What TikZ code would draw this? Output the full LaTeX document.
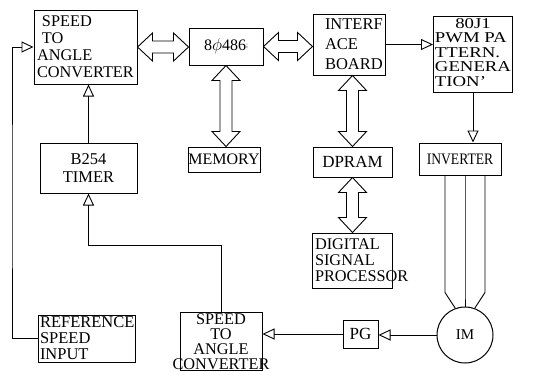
\documentclass[tikz,border=0pt]{standalone}
\usepackage{graphicx}
\usepackage{fontspec}
\setmainfont{Liberation Serif}
\usetikzlibrary{arrows.meta, calc}

% hollow double-headed bus arrow between two points
\newcommand{\busarrow}[2]{%
  \draw[bus] (#1)
    -- ($(#1)!\headlen!(#2)!\headhalf!90:(#2)$)
    -- ($(#1)!\headlen!(#2)!\shafthalf!90:(#2)$)
    -- ($(#2)!\headlen!(#1)!\shafthalf!-90:(#1)$)
    -- ($(#2)!\headlen!(#1)!\headhalf!-90:(#1)$)
    -- (#2)
    -- ($(#2)!\headlen!(#1)!\headhalf!90:(#1)$)
    -- ($(#2)!\headlen!(#1)!\shafthalf!90:(#1)$)
    -- ($(#1)!\headlen!(#2)!\shafthalf!-90:(#2)$)
    -- ($(#1)!\headlen!(#2)!\headhalf!-90:(#2)$)
    -- cycle;}

\begin{document}
\begin{tikzpicture}[x=1pt, y=-1pt,
    blk/.style={draw, line width=1pt, inner sep=0pt, font=\fontsize{16.3}{17}\selectfont},
    sig/.style={line width=0.9pt, -{Triangle[open, length=12pt, width=11pt]}},
    bus/.style={line width=0.9pt, fill=white, line join=miter},
    wire/.style={line width=0.9pt}]

    \def\headlen{15pt}
    \def\headhalf{14pt}
    \def\shafthalf{6pt}

    \useasboundingbox (0,0) rectangle (533,372);

    % --- Top row ---
    \node[blk, minimum width=103pt, minimum height=74pt, text width=97pt, inner xsep=3pt, align=left] (conv) at (85.5,47)
        {\hspace*{5pt}SPEED\\\hspace*{5pt}TO\\ANGLE\\CONVERTER};
    \node[blk, minimum width=74pt, minimum height=37pt, font=\fontsize{16}{18}\selectfont] (cpu) at (226,46.5)
        {8$\phi$486\raisebox{3pt}{\scriptsize ;}};
    \node[blk, minimum width=72pt, minimum height=61pt, text width=48pt, inner xsep=12pt, align=left,
        font=\fontsize{16.5}{20}\selectfont] (iface) at (349,44.5) {INTERF\\ACE\\BOARD};
    \node[blk, minimum width=79pt, minimum height=76pt, font=\fontsize{15}{14.5}\selectfont] (pwm) at (473,54.5)
        {\scalebox{1.25}[1]{\begin{tabular}{@{}l@{}}\multicolumn{1}{@{}c@{}}{80J1}\\PWM PA\\TTERN.\\GENERA\\TION'\end{tabular}}};

    % --- Middle row ---
    \node[blk, minimum width=97pt, minimum height=50pt, align=center, font=\fontsize{16.5}{18}\selectfont] (timer) at (88.5,168)
        {B254\\TIMER};
    \node[blk, minimum width=72pt, minimum height=25pt, font=\fontsize{16}{18}\selectfont] (mem) at (224,159.5) {MEMORY};
    \node[blk, minimum width=79pt, minimum height=30pt, font=\fontsize{17}{18}\selectfont] (dpram) at (352.5,162) {DPRAM};
    \node[blk, minimum width=82pt, minimum height=32pt, font=\fontsize{16}{18}\selectfont] (inv) at (460,159)
        {\scalebox{0.85}[1]{INVERTER}};
    \node[blk, minimum width=80pt, minimum height=55pt, text width=74pt, inner xsep=3pt, align=left,
        font=\fontsize{16.3}{16}\selectfont] (dsp) at (352,260.5) {DIGITAL\\SIGNAL\\PROCESSOR};

    % --- Bottom row ---
    \node[blk, minimum width=97pt, minimum height=47pt, text width=93pt, inner xsep=2pt, align=left,
        font=\fontsize{16.5}{16}\selectfont] (ref) at (86.5,338.5) {REFERENCE\\SPEED\\INPUT};
    \node[blk, minimum width=82pt, minimum height=58pt, text width=76pt, inner xsep=3pt, align=center,
        font=\fontsize{16.3}{15}\selectfont] (conv2) at (221,341.5) {SPEED\\TO\\ANGLE\\\makebox[0pt]{CONVERTER}};
    \node[blk, minimum width=35pt, minimum height=28pt, font=\fontsize{17}{18}\selectfont] (pg) at (360.5,334) {PG};
    \node[draw, circle, line width=1pt, minimum size=56pt, inner sep=0pt, font=\fontsize{15}{16}\selectfont] (im) at (465,335) {IM};

    % --- Buses ---
    \coordinate (cpuW) at (conv.east -| cpu.west);
    \busarrow{conv.east}{cpuW}
    \coordinate (ifW) at (cpu.east -| iface.west);
    \busarrow{cpu.east}{ifW}
    \coordinate (memN) at (cpu.south |- mem.north);
    \busarrow{cpu.south}{memN}
    \coordinate (ifS) at (dpram.north |- iface.south);
    \busarrow{ifS}{dpram.north}
    \coordinate (dspN) at (dpram.south |- dsp.north);
    \busarrow{dpram.south}{dspN}

    % --- Signal lines ---
    \draw[sig] (iface.east) -- (iface.east -| pwm.west);
    \draw[sig] (pwm.south) -- (pwm.south |- inv.north);
    \draw[sig] (timer.north) -- (timer.north |- conv.south);
    \coordinate (fb) at (12,200);
    \draw[sig] (ref.west) -| (fb) |- (conv.west);
    \coordinate (turn) at (221,245);
    \draw[sig] (conv2.north) -- (turn) -| (timer.south);
    \draw[sig] (im.west) -- (im.west -| pg.east);
    \draw[sig] (pg.west) -- (pg.west -| conv2.east);

    % --- Motor leads ---
    \coordinate (lead) at (im.center |- inv.south);
    \foreach \dx/\ang in {-20/110, 0/90, 20/70}
        \draw[wire] ($(lead)+(\dx,0)$) -- ++(0,117) -- (im.\ang);

\end{tikzpicture}
\end{document}
